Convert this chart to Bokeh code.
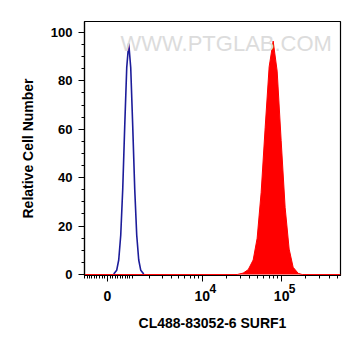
import numpy as np
from bokeh.plotting import figure
from bokeh.models import (Range1d, FixedTicker, SingleIntervalTicker, CustomJSTickFormatter,
                          Label, LinearAxis)
from bokeh.embed import file_html
from bokeh.resources import INLINE

# ---- data (fluorescence intensity, relative cell number) ----
blue_x = [236, 351, 429, 509, 590, 673, 759, 847, 937, 1031, 1129, 1230, 1335, 1445, 1619]
blue_y = [0.2, 1.8, 6.0, 16.2, 35.2, 61.3, 85.5, 95.5, 85.5, 61.3, 35.2, 16.2, 6.0, 1.8, 0.2]

red_x = [-920, 27570, 32810, 37930, 43850, 49200, 55250, 62040, 69670, 78240,
         87850, 98610, 110700, 124300, 139600, 161400, 181200, 550000]
red_y = [0, 0, 0.6, 2.0, 6.0, 15.0, 33.9, 60.6, 85.8, 96.4,
         84.0, 55.4, 27.7, 10.5, 3.0, 0.5, 0, 0]

x_tick_values = [0, 1e4, 1e5]
x_tick_labels = ["0", "10", "10"]
x_exp_values = [1e4, 1e5]
x_exp_labels = ["4", "5"]
x_minor_values = ([-v for v in range(100, 1000, 100)] + list(range(100, 1000, 100))
                  + [1000 * k for k in range(1, 10)] + [1e4 * k for k in range(2, 10)]
                  + [1e5 * k for k in range(2, 6)])
x_limits = [-920, 550000]
y_limits = [-0.4, 104.5]

W = 1289.0
def tf(v):
    return np.arcsinh(np.asarray(v, dtype=float) / W) / np.log(10)

x0, x1 = float(tf(x_limits[0])), float(tf(x_limits[1]))
p = figure(width=361, height=356, output_backend="svg", toolbar_location=None,
           x_range=Range1d(x0, x1), y_range=Range1d(*y_limits),
           min_border_left=84, min_border_right=21, min_border_top=21, min_border_bottom=81)
p.background_fill_color = "white"
p.border_fill_color = "white"
p.outline_line_color = "black"
p.outline_line_width = 1.2
p.xgrid.visible = False
p.ygrid.visible = False

# red filled histogram
p.varea(x=tf(red_x), y1=0, y2=red_y, fill_color="#ff0000")
p.line(x=tf(red_x), y=red_y, line_color="#ff0000", line_width=1)
# blue open histogram
p.line(x=tf(blue_x), y=blue_y, line_color="#1c1c9a", line_width=1.6)

# watermark
p.add_layout(Label(x=36, y=232, x_units="screen", y_units="screen", text="WWW.PTGLAB.COM",
                   text_font="Liberation Sans", text_font_size="22px", text_color="#dcdcdc",
                   text_baseline="middle"))

# x axis (ticks + mantissa labels)
xa = p.xaxis[0]
xa.ticker = FixedTicker(ticks=[float(t) for t in tf(x_tick_values)],
                        minor_ticks=[float(t) for t in tf(x_minor_values)])
xa.formatter = CustomJSTickFormatter(args=dict(labels=x_tick_labels), code="return labels[index];")
xa.major_label_text_font = "Liberation Sans"
xa.major_label_text_font_style = "bold"
xa.major_label_text_font_size = "14px"
xa.major_label_text_color = "black"
xa.major_label_standoff = 9
xa.major_tick_in = 0
xa.major_tick_out = 6
xa.minor_tick_in = 0
xa.minor_tick_out = 3
xa.axis_line_width = 1.2

# second axis below: superscript exponents + axis title
px_per_unit = 256.0 / (x1 - x0)
shift = 10.5 / px_per_unit
xb = LinearAxis(ticker=FixedTicker(ticks=[float(t) + shift for t in tf(x_exp_values)], minor_ticks=[]),
                formatter=CustomJSTickFormatter(args=dict(labels=x_exp_labels), code="return labels[index];"))
xb.axis_line_color = None
xb.major_tick_line_color = None
xb.minor_tick_line_color = None
xb.major_tick_in = 0
xb.major_tick_out = 0
xb.major_label_standoff = -20
xb.major_label_text_font = "Liberation Sans"
xb.major_label_text_font_style = "bold"
xb.major_label_text_font_size = "12px"
xb.major_label_text_color = "black"
xb.axis_label = "CL488-83052-6 SURF1"
xb.axis_label_text_font = "Liberation Sans"
xb.axis_label_text_font_style = "bold"
xb.axis_label_text_font_size = "14px"
xb.axis_label_text_color = "black"
xb.axis_label_standoff = 19
p.add_layout(xb, "below")

# y axis
ya = p.yaxis[0]
ya.ticker = SingleIntervalTicker(interval=20, num_minor_ticks=4)
ya.axis_label = "Relative Cell Number"
ya.axis_label_text_font = "Liberation Sans"
ya.axis_label_text_font_style = "bold"
ya.axis_label_text_font_size = "14px"
ya.axis_label_text_color = "black"
ya.axis_label_standoff = 12
ya.major_label_text_font = "Liberation Sans"
ya.major_label_text_font_style = "bold"
ya.major_label_text_font_size = "13px"
ya.major_label_text_color = "black"
ya.major_label_standoff = 6
ya.major_tick_in = 0
ya.major_tick_out = 6
ya.minor_tick_in = 0
ya.minor_tick_out = 3
ya.axis_line_width = 1.2

open("out.html", "w").write(file_html(p, INLINE))
